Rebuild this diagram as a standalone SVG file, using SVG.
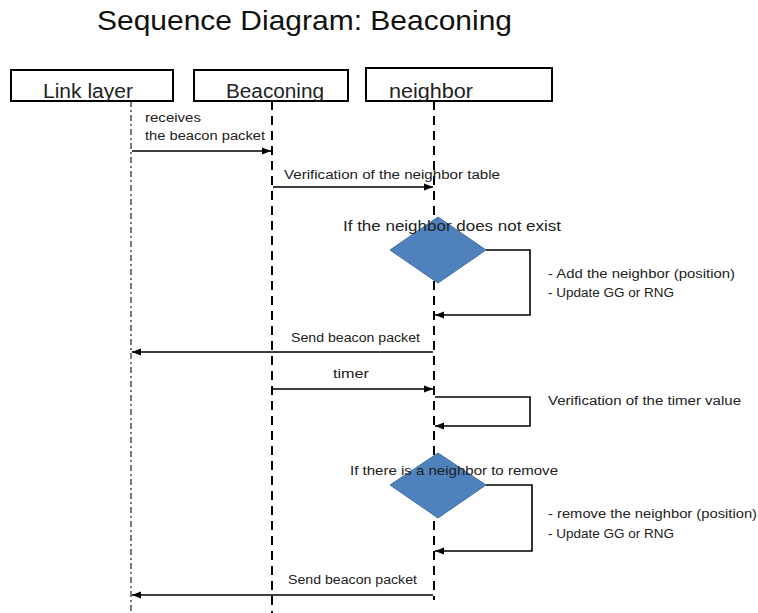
<svg xmlns="http://www.w3.org/2000/svg" width="758" height="613" viewBox="0 0 758 613">
<defs>
<marker id="ah" viewBox="0 0 10 10" refX="10" refY="5" markerWidth="9" markerHeight="9" markerUnits="userSpaceOnUse" orient="auto">
<path d="M0,1 L10,5 L0,9 Z" fill="#000"/>
</marker>
</defs>
<style>
text{font-family:"Liberation Sans",Arial,sans-serif;fill:#222}
.box{fill:#fff;stroke:#000;stroke-width:2}
.hdr{font-size:20px}
.lbl{font-size:12px}
.life{stroke:#000;stroke-width:2;stroke-dasharray:9 6;fill:none}
.life1{stroke:#333;stroke-width:1.3;stroke-dasharray:6 3 2 3;fill:none}
.msg{stroke:#000;stroke-width:1.6;fill:none;marker-end:url(#ah)}
.dia{fill:#4F81BD;stroke:#41719C;stroke-width:1}
</style>
<rect width="758" height="613" fill="#fff"/>
<text x="97" y="30" font-size="28" textLength="415" lengthAdjust="spacingAndGlyphs" style="fill:#111">Sequence Diagram: Beaconing</text>

<g id="lifelines">
<line class="life1" x1="131" y1="101" x2="131" y2="613"/>
<line class="life" x1="272" y1="101" x2="272" y2="613"/>
<line class="life" x1="434" y1="101" x2="434" y2="600"/>
</g>

<g id="node-linklayer">
<rect class="box" x="11" y="70" width="162" height="31"/>
<text class="hdr" x="43" y="98" textLength="90" lengthAdjust="spacingAndGlyphs">Link layer</text>
</g>
<g id="node-beaconing">
<rect class="box" x="194" y="70" width="154" height="31"/>
<text class="hdr" x="226" y="98" textLength="98" lengthAdjust="spacingAndGlyphs">Beaconing</text>
</g>
<g id="node-neighbor">
<rect class="box" x="366" y="68" width="186" height="33"/>
<text class="hdr" x="389" y="98" textLength="84" lengthAdjust="spacingAndGlyphs">neighbor</text>
</g>

<g id="node-decision1">
<polygon class="dia" points="390,250 438,217 486,250 438,283"/>
<text x="343" y="231" font-size="15" textLength="218" lengthAdjust="spacingAndGlyphs">If the neighbor does not exist</text>
</g>
<g id="node-decision2">
<polygon class="dia" points="390,485 438,453 486,485 438,518"/>
<text x="350" y="475" font-size="13" textLength="208" lengthAdjust="spacingAndGlyphs">If there is a neighbor to  remove</text>
</g>

<g id="connectors">
<line class="msg" x1="132" y1="151" x2="271" y2="151"/>
<line class="msg" x1="273" y1="187" x2="433" y2="187"/>
<polyline class="msg" points="486,250 530,250 530,315 435,315"/>
<line class="msg" x1="433" y1="352" x2="132" y2="352"/>
<line class="msg" x1="273" y1="389" x2="433" y2="389"/>
<polyline class="msg" points="435,397 530,397 530,426 435,426"/>
<polyline class="msg" points="486,485 532,485 532,551 435,551"/>
<line class="msg" x1="433" y1="595" x2="132" y2="595"/>
</g>

<g id="labels">
<text class="lbl" x="145" y="122" textLength="56" lengthAdjust="spacingAndGlyphs">receives</text>
<text class="lbl" x="145" y="140" textLength="120" lengthAdjust="spacingAndGlyphs">the beacon packet</text>
<text class="lbl" x="284" y="179" textLength="216" lengthAdjust="spacingAndGlyphs">Verification of the neighbor  table</text>
<text class="lbl" x="548" y="278" textLength="187" lengthAdjust="spacingAndGlyphs">- Add the neighbor (position)</text>
<text class="lbl" x="548" y="297" textLength="126" lengthAdjust="spacingAndGlyphs">- Update GG or RNG</text>
<text class="lbl" x="291" y="342" textLength="129" lengthAdjust="spacingAndGlyphs">Send beacon packet</text>
<text class="lbl" x="333" y="378" textLength="36" lengthAdjust="spacingAndGlyphs">timer</text>
<text class="lbl" x="548" y="405" textLength="193" lengthAdjust="spacingAndGlyphs">Verification of the timer value</text>
<text class="lbl" x="548" y="518" textLength="209" lengthAdjust="spacingAndGlyphs">- remove the neighbor (position)</text>
<text class="lbl" x="548" y="538" textLength="126" lengthAdjust="spacingAndGlyphs">- Update GG or RNG</text>
<text class="lbl" x="288" y="584" textLength="129" lengthAdjust="spacingAndGlyphs">Send beacon packet</text>
</g>
</svg>
